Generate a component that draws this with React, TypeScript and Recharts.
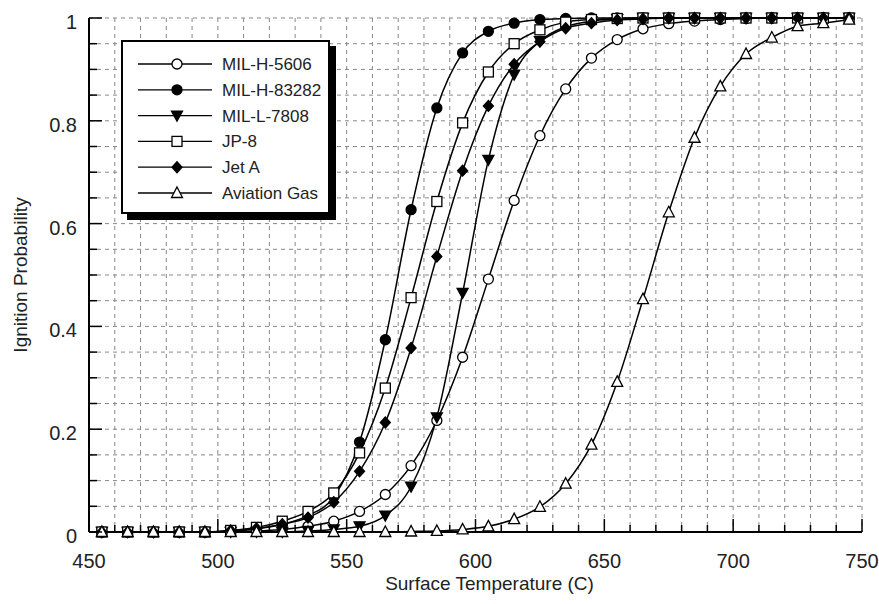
import { LineChart, Line, XAxis, YAxis, CartesianGrid } from 'recharts'

// surface temperature (C) of each measured point
const temps = [
  455, 465, 475, 485, 495, 505, 515, 525, 535, 545, 555, 565, 575, 585, 595,
  605, 615, 625, 635, 645, 655, 665, 675, 685, 695, 705, 715, 725, 735, 745,
]

const milH5606 = [
  0, 0, 0, 0, 0, 0.001, 0.002, 0.005, 0.011, 0.021, 0.04, 0.073, 0.129, 0.217, 0.34,
  0.492, 0.645, 0.771, 0.862, 0.922, 0.958, 0.979, 0.989, 0.994, 0.997, 0.999, 1, 1, 1, 1,
]
const milH83282 = [
  0, 0, 0, 0, 0, 0.002, 0.006, 0.015, 0.032, 0.068, 0.175, 0.374, 0.627, 0.825, 0.932,
  0.974, 0.99, 0.997, 0.999, 1, 1, 1, 1, 1, 1, 1, 1, 1, 1, 1,
]
const milL7808 = [
  0, 0, 0, 0, 0, 0, 0, 0, 0.002, 0.005, 0.011, 0.032, 0.088, 0.223, 0.465,
  0.724, 0.89, 0.955, 0.983, 0.994, 0.998, 1, 1, 1, 1, 1, 1, 1, 1, 1,
]
const jp8 = [
  0, 0, 0, 0, 0, 0.003, 0.009, 0.021, 0.04, 0.076, 0.154, 0.28, 0.456, 0.643, 0.796,
  0.895, 0.95, 0.977, 0.992, 0.997, 0.999, 1, 1, 1, 1, 1, 1, 1, 1, 1,
]
const jetA = [
  0, 0, 0, 0, 0, 0.003, 0.007, 0.015, 0.028, 0.058, 0.118, 0.213, 0.358, 0.536, 0.703,
  0.829, 0.91, 0.954, 0.98, 0.99, 0.996, 0.998, 1, 1, 1, 1, 1, 1, 1, 1,
]
const avgas = [
  0, 0, 0, 0, 0, 0, 0, 0, 0, 0, 0, 0, 0.001, 0.002, 0.005,
  0.011, 0.025, 0.049, 0.094, 0.17, 0.292, 0.453, 0.622, 0.767, 0.867, 0.93, 0.962, 0.984, 0.99, 0.997,
]

const xTicks = [
  450, 460, 470, 480, 490, 500, 510, 520, 530, 540, 550, 560, 570, 580, 590, 600,
  610, 620, 630, 640, 650, 660, 670, 680, 690, 700, 710, 720, 730, 740, 750,
]
const yTicks = [
  0, 0.05, 0.1, 0.15, 0.2, 0.25, 0.3, 0.35, 0.4, 0.45, 0.5,
  0.55, 0.6, 0.65, 0.7, 0.75, 0.8, 0.85, 0.9, 0.95, 1,
]

const series = [
  { key: 'h5606', name: 'MIL-H-5606', marker: 'circleOpen', values: milH5606 },
  { key: 'h83282', name: 'MIL-H-83282', marker: 'circleFill', values: milH83282 },
  { key: 'l7808', name: 'MIL-L-7808', marker: 'triDown', values: milL7808 },
  { key: 'jp8', name: 'JP-8', marker: 'square', values: jp8 },
  { key: 'jetA', name: 'Jet A', marker: 'diamond', values: jetA },
  { key: 'avgas', name: 'Aviation Gas', marker: 'triUp', values: avgas },
]

const data = temps.map((t, i) => {
  const row: Record<string, number> = { t }
  series.forEach(s => { row[s.key] = s.values[i] })
  return row
})

const FONT = '"Liberation Sans", Arial, sans-serif'

function Marker({ kind, cx, cy }: { kind: string; cx: number; cy: number }) {
  const st = { stroke: '#000', strokeWidth: 1.3 }
  switch (kind) {
    case 'circleOpen':
      return <circle cx={cx} cy={cy} r={5} fill="#fff" {...st} />
    case 'circleFill':
      return <circle cx={cx} cy={cy} r={5} fill="#000" {...st} />
    case 'triDown':
      return <polygon points={`${cx - 5.5},${cy - 4.5} ${cx + 5.5},${cy - 4.5} ${cx},${cy + 5.5}`} fill="#000" {...st} />
    case 'square':
      return <rect x={cx - 5} y={cy - 5} width={10} height={10} fill="#fff" {...st} />
    case 'diamond':
      return <polygon points={`${cx},${cy - 5.5} ${cx + 5},${cy} ${cx},${cy + 5.5} ${cx - 5},${cy}`} fill="#000" {...st} />
    default:
      return <polygon points={`${cx},${cy - 6} ${cx + 5.5},${cy + 4.5} ${cx - 5.5},${cy + 4.5}`} fill="#fff" {...st} />
  }
}

const isMajorX = (v: number) => v % 50 === 0
const isMajorY = (v: number) => Math.abs(v * 5 - Math.round(v * 5)) < 1e-6

function BottomTick({ x, y, payload }: any) {
  const major = isMajorX(payload.value)
  return (
    <g>
      <line x1={x} x2={x} y1={y} y2={y - (major ? 13 : 7)} stroke="#000" strokeWidth={1.5} />
      {major && (
        <text x={x} y={y + 36} textAnchor="middle" fontSize={20} fontFamily={FONT} fill="#222">
          {payload.value}
        </text>
      )}
    </g>
  )
}

function TopTick({ x, y, payload }: any) {
  const major = isMajorX(payload.value)
  return <line x1={x} x2={x} y1={y} y2={y + (major ? 13 : 7)} stroke="#000" strokeWidth={1.5} />
}

function LeftTick({ x, y, payload }: any) {
  const v = payload.value
  const major = isMajorY(v)
  return (
    <g>
      <line x1={x} x2={x + (major ? 13 : 8)} y1={y} y2={y} stroke="#000" strokeWidth={1.5} />
      {major && (
        <text x={x - 12} y={y + 11} textAnchor="end" fontSize={20} fontFamily={FONT} fill="#222">
          {String(Math.round(v * 10) / 10)}
        </text>
      )}
    </g>
  )
}

function RightTick({ x, y, payload }: any) {
  const major = isMajorY(payload.value)
  return <line x1={x} x2={x - (major ? 13 : 8)} y1={y} y2={y} stroke="#000" strokeWidth={1.5} />
}

function LegendBox() {
  return (
    <div
      style={{
        position: 'absolute', left: 121, top: 40, width: 205, height: 170,
        border: '2px solid #000', background: '#fff', boxShadow: '6px 6px 0 #000',
      }}
    >
      <svg width={205} height={170}>
        {series.map((s, i) => {
          const cy = 22 + i * 25.8
          return (
            <g key={s.key}>
              <line x1={15} x2={89} y1={cy} y2={cy} stroke="#000" strokeWidth={1.3} />
              <Marker kind={s.marker} cx={54} cy={cy} />
              <text x={99} y={cy + 6} fontSize={17} fontFamily={FONT} fill="#222">{s.name}</text>
            </g>
          )
        })}
      </svg>
    </div>
  )
}

export default function App() {
  return (
    <div style={{ position: 'absolute', left: 0, top: 0, width: 879, height: 604, background: '#fff' }}>
      <LineChart width={879} height={604} data={data} margin={{ top: 18, right: 17, bottom: 0, left: 0 }}>
        <CartesianGrid
          xAxisId="bottom"
          yAxisId="left"
          stroke="#888"
          strokeDasharray="4 4"
          strokeWidth={1}
        />
        <XAxis
          xAxisId="bottom"
          dataKey="t"
          type="number"
          domain={[450, 750]}
          ticks={xTicks}
          interval={0}
          height={72}
          tickSize={0}
          tickMargin={0}
          tickLine={false}
          tick={BottomTick}
          axisLine={{ stroke: '#000', strokeWidth: 2 }}
          label={{
            value: 'Surface Temperature (C)', position: 'center', dx: 14, dy: 15,
            style: { fontSize: 19, fontFamily: FONT, fill: '#222' },
          }}
        />
        <XAxis
          xAxisId="top"
          orientation="top"
          dataKey="t"
          type="number"
          domain={[450, 750]}
          ticks={xTicks}
          interval={0}
          height={0}
          tickSize={0}
          tickMargin={0}
          tickLine={false}
          tick={TopTick}
          axisLine={{ stroke: '#000', strokeWidth: 2 }}
        />
        <YAxis
          yAxisId="left"
          type="number"
          domain={[0, 1]}
          ticks={yTicks}
          interval={0}
          width={89}
          tickSize={0}
          tickMargin={0}
          tickLine={false}
          tick={LeftTick}
          axisLine={{ stroke: '#000', strokeWidth: 2 }}
          label={{
            value: 'Ignition Probability', angle: -90, position: 'center', dx: -24,
            style: { fontSize: 19, fontFamily: FONT, fill: '#222' },
          }}
        />
        <YAxis
          yAxisId="right"
          orientation="right"
          type="number"
          domain={[0, 1]}
          ticks={yTicks}
          interval={0}
          width={0}
          tickSize={0}
          tickMargin={0}
          tickLine={false}
          tick={RightTick}
          axisLine={{ stroke: '#000', strokeWidth: 2 }}
        />
        {series.map(s => (
          <Line
            key={s.key}
            xAxisId="bottom"
            yAxisId="left"
            type="monotone"
            dataKey={s.key}
            name={s.name}
            stroke="#000"
            strokeWidth={1.5}
            isAnimationActive={false}
            dot={(p: any) => <Marker key={`${s.key}-${p.index}`} kind={s.marker} cx={p.cx} cy={p.cy} />}
            activeDot={false}
          />
        ))}
      </LineChart>
      <LegendBox />
    </div>
  )
}
